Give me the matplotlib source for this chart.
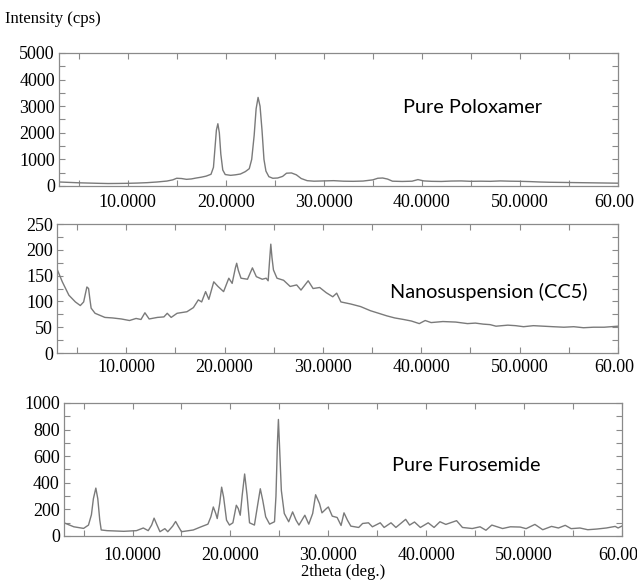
import numpy as np
import matplotlib.pyplot as plt
from matplotlib.ticker import MultipleLocator, FixedLocator, FixedFormatter
from matplotlib.transforms import ScaledTranslation

# --- Pure Poloxamer (panel 1) ---
x_polox = [3, 4, 5, 6, 7, 8, 9, 10, 11, 12, 13, 14, 14.6, 15.0, 15.5, 16.0, 16.5, 17.0, 17.5,
           18.0, 18.5, 18.75, 18.9, 19.05, 19.2, 19.35, 19.5, 19.7, 19.95, 20.5, 21.0, 21.5, 22.0,
           22.4, 22.65, 22.9, 23.1, 23.3, 23.5, 23.7, 23.9, 24.1, 24.4, 24.8, 25.3, 25.8, 26.2,
           26.7, 27.2, 27.7, 28.3, 29.0, 30.0, 31.0, 32.0, 33.0, 34.0, 35.0, 35.5, 36.0, 36.5,
           37.0, 38.0, 39.0, 39.6, 40.2, 41.0, 42.0, 43.0, 44.0, 45.0, 46.0, 47.0, 48.0, 49.0,
           50.0, 51.0, 52.0, 53.0, 54.0, 55.0, 56.0, 57.0, 58.0, 59.0, 60.0]
y_polox = [150, 135, 120, 110, 100, 92, 95, 100, 110, 125, 150, 185, 230, 290, 280, 250, 265, 300, 330,
           370, 440, 700, 1400, 2100, 2340, 2000, 1200, 600, 430, 400, 420, 450, 540,
           650, 1000, 1900, 2900, 3330, 3000, 2100, 1000, 560, 350, 290, 300, 360, 480,
           490, 420, 280, 200, 180, 190, 200, 180, 175, 185, 230, 290, 300, 260,
           180, 170, 180, 240, 190, 175, 170, 185, 190, 175, 180, 175, 190, 180,
           175, 165, 150, 140, 135, 130, 125, 120, 115, 110, 105]

# --- Nanosuspension (CC5) (panel 2) ---
x_nano = [3, 3.5, 4.17, 4.83, 5.33, 5.67, 5.85, 6.0, 6.17, 6.3, 6.43, 6.83, 7.83, 8.6, 9.5, 10.33,
          11.0, 11.5, 11.9, 12.33, 13.17, 13.83, 14.17, 14.57, 15.17, 16.17, 16.83, 17.33, 17.67,
          18.07, 18.4, 18.9, 19.33, 19.9, 20.43, 20.77, 21.1, 21.23, 21.4, 21.67, 22.33, 22.83,
          23.23, 23.83, 24.23, 24.43, 24.58, 24.7, 24.82, 24.97, 25.33, 26.0, 26.67, 27.33, 27.77,
          28.5, 29.0, 29.67, 30.33, 31.0, 31.4, 31.83, 32.83, 33.83, 34.83, 35.67, 36.5, 37.3,
          38.2, 39.0, 39.8, 40.4, 41.0, 42.2, 43.5, 44.7, 45.5, 46.3, 47.0, 47.6, 48.8, 49.6,
          50.4, 51.4, 52.4, 53.4, 54.5, 55.5, 56.5, 57.5, 58.6, 59.3, 60]
y_nano = [161, 138, 112, 99, 92, 99, 115, 128, 125, 105, 87, 77, 69, 68, 66, 63,
          67, 65, 78, 66, 69, 70, 77, 69, 77, 80, 88, 103, 99,
          119, 104, 138, 129, 119, 145, 135, 165, 174, 160, 145, 143, 165,
          148, 143, 145, 140, 180, 211, 185, 161, 145, 141, 129, 132, 122,
          140, 125, 127, 117, 109, 116, 99, 95, 90, 82, 77, 72, 68,
          65, 62, 57, 63, 59, 61, 60, 57, 58, 56, 55, 52, 54, 53,
          51, 53, 52, 51, 50, 51, 49, 50, 50, 51, 52]

# --- Pure Furosemide (panel 3) ---
x_furo = [3, 4, 5, 5.5, 5.8, 6.0, 6.25, 6.45, 6.65, 6.8, 7.4, 9.1, 10.4, 11.1, 11.6, 11.95, 12.2,
          12.5, 12.8, 13.3, 13.6, 14.1, 14.4, 14.7, 15.0, 16.2, 17.0, 17.7, 18.0, 18.25, 18.5,
          18.65, 18.9, 19.1, 19.3, 19.6, 19.9, 20.25, 20.6, 20.8, 21.0, 21.2, 21.45, 21.7, 21.95,
          22.45, 22.8, 23.05, 23.3, 23.6, 24.0, 24.5, 24.65, 24.8, 24.9, 25.0, 25.2, 25.5, 25.95,
          26.35, 26.7, 27.0, 27.6, 28.0, 28.4, 28.7, 29.1, 29.35, 29.8, 30.0, 30.4, 30.9, 31.3,
          31.6, 31.95, 32.3, 33.1, 33.5, 34.1, 34.5, 35.3, 35.7, 36.4, 36.9, 37.9, 38.3, 38.8,
          39.4, 40.2, 40.8, 41.4, 42.0, 43.1, 43.7, 44.7, 45.5, 46.1, 46.7, 47.8, 48.6, 49.6,
          50.2, 51.1, 51.9, 52.8, 53.5, 54.2, 54.8, 55.7, 56.5, 57.4, 58.4, 59.3, 59.6, 60]
y_furo = [99, 69, 57, 82, 160, 280, 360, 280, 120, 45, 40, 35, 40, 60, 40, 82, 134,
          82, 32, 55, 32, 74, 109, 69, 32, 45, 69, 89, 144, 218, 169,
          131, 243, 367, 293, 119, 82, 99, 231, 206, 156, 305, 466, 305, 99,
          82, 243, 355, 268, 144, 89, 107, 300, 700, 876, 700, 342, 169, 107,
          181, 119, 82, 156, 89, 169, 310, 243, 174, 206, 218, 149, 139, 79,
          174, 119, 74, 64, 94, 99, 69, 99, 64, 99, 64, 125, 82, 105,
          64, 99, 64, 107, 87, 115, 64, 56, 69, 43, 82, 56, 69, 67,
          55, 87, 47, 72, 60, 80, 55, 60, 47, 52, 60, 72, 60, 75]

labels = ["Pure Poloxamer", "Nanosuspension (CC5)", "Pure Furosemide"]
ymax = [5000, 250, 1000]
ymajor = [1000, 50, 200]
yminor = [500, 25, 100]

xt = [10, 20, 30, 40, 50, 60]
xt_lab = ["10.0000", "20.0000", "30.0000", "40.0000", "50.0000", "60.00"]

serif = "Liberation Serif"
gray = "#8a8a8a"

fig = plt.figure(figsize=(6.37, 5.81), dpi=100)
rects = [[0.0926, 0.6799, 0.8776, 0.2289],
         [0.0901, 0.3924, 0.8800, 0.2220],
         [0.1005, 0.0775, 0.8760, 0.2289]]
pads = [6, 4, 8]
text_pos = [(0.74, 0.59), (0.77, 0.47), (0.72, 0.53)]

data = [(x_polox, y_polox), (x_nano, y_nano), (x_furo, y_furo)]
for i in range(3):
    ax = fig.add_axes(rects[i])
    x, y = data[i]
    ax.plot(x, y, color="#7a7a7a", lw=1.0)
    ax.set_xlim(3, 60)
    ax.set_ylim(0, ymax[i])
    ax.xaxis.set_major_locator(FixedLocator(xt))
    ax.xaxis.set_major_formatter(FixedFormatter(xt_lab))
    ax.xaxis.set_minor_locator(MultipleLocator(5))
    ax.yaxis.set_major_locator(MultipleLocator(ymajor[i]))
    ax.yaxis.set_minor_locator(MultipleLocator(yminor[i]))
    for s in ax.spines.values():
        s.set_color(gray)
        s.set_linewidth(0.9)
    ax.tick_params(which="both", direction="in", top=True, right=True, color=gray, width=0.8, length=4)
    ax.tick_params(axis="x", pad=pads[i])
    ax.tick_params(axis="y", pad=3)
    for t in ax.get_xticklabels() + ax.get_yticklabels():
        t.set_fontfamily(serif)
        t.set_fontsize(13)
    # last label ("60.00") is squeezed against the right edge, as in the original
    last = ax.xaxis.get_major_ticks()[-1].label1
    last.set_transform(last.get_transform() + ScaledTranslation(-3 / 72, 0, fig.dpi_scale_trans))
    ax.text(text_pos[i][0], text_pos[i][1], labels[i], transform=ax.transAxes,
            ha="center", va="center", fontsize=14.3, family="Lato")
    if i == 2:
        ax.set_xlabel("2theta (deg.)", family=serif, fontsize=12, labelpad=0)

fig.text(0.008, 0.968, "Intensity (cps)", family=serif, fontsize=12, ha="left", va="center")

fig.savefig("out.png", dpi=100)
